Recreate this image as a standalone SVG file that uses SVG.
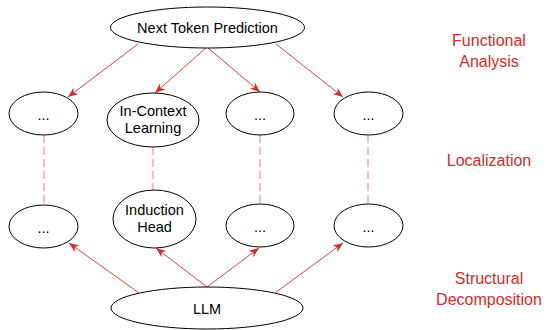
<svg xmlns="http://www.w3.org/2000/svg" width="548" height="330" viewBox="0 0 548 330">
<defs>
<style>
.node ellipse{fill:#fff;stroke:#000;stroke-width:1}
.node text{font-family:"Liberation Sans",Arial,sans-serif;font-size:14.5px;fill:#000;text-anchor:middle}
.arr{stroke:#e04040;stroke-width:1;fill:none;marker-end:url(#ah)}
.dash{stroke:#ec8080;stroke-width:1;stroke-dasharray:8 4;fill:none}
.lab{font-family:"Liberation Sans",Arial,sans-serif;font-size:16px;fill:#d42a2a;text-anchor:middle}
</style>
<marker id="ah" markerUnits="userSpaceOnUse" markerWidth="12" markerHeight="10" refX="10" refY="4" orient="auto">
<path d="M0,0 L10,4 L0,8 L3,4 z" fill="#d42a2a"/>
</marker>
</defs>
<g id="connectors">
<line class="arr" x1="138" y1="44" x2="68" y2="97"/>
<line class="arr" x1="207" y1="47" x2="155" y2="93"/>
<line class="arr" x1="207" y1="47" x2="260" y2="92"/>
<line class="arr" x1="276" y1="44" x2="343" y2="97"/>
<line class="dash" x1="44" y1="135" x2="44" y2="205"/>
<line class="dash" x1="153" y1="147" x2="153" y2="190"/>
<line class="dash" x1="260" y1="135" x2="260" y2="204"/>
<line class="dash" x1="368" y1="135" x2="368" y2="204"/>
<line class="arr" x1="139" y1="293" x2="69" y2="243"/>
<line class="arr" x1="207" y1="287" x2="156" y2="248"/>
<line class="arr" x1="207" y1="287" x2="259" y2="248"/>
<line class="arr" x1="275" y1="293" x2="343" y2="243"/>
</g>
<g id="n-ntp" class="node"><ellipse cx="207.5" cy="27.5" rx="97" ry="20.5"/><text x="207.5" y="33">Next Token Prediction</text></g>
<g id="n-f1" class="node"><ellipse cx="43.5" cy="113.5" rx="34.5" ry="21.5"/><text x="43.5" y="120">...</text></g>
<g id="n-icl" class="node"><ellipse cx="153" cy="120" rx="46" ry="27"/><text x="153" y="116">In-Context</text><text x="153" y="133">Learning</text></g>
<g id="n-f3" class="node"><ellipse cx="260" cy="113.5" rx="34" ry="21.5"/><text x="260" y="120">...</text></g>
<g id="n-f4" class="node"><ellipse cx="368.5" cy="113.5" rx="34.5" ry="21.5"/><text x="368.5" y="120">...</text></g>
<g id="n-s1" class="node"><ellipse cx="43.5" cy="226.5" rx="34.5" ry="21.5"/><text x="43.5" y="233">...</text></g>
<g id="n-ih" class="node"><ellipse cx="154.5" cy="219" rx="41.5" ry="29"/><text x="154.5" y="215">Induction</text><text x="154.5" y="232">Head</text></g>
<g id="n-s3" class="node"><ellipse cx="260" cy="225.5" rx="34" ry="21.5"/><text x="260" y="232">...</text></g>
<g id="n-s4" class="node"><ellipse cx="368.5" cy="225.5" rx="34.5" ry="21.5"/><text x="368.5" y="232">...</text></g>
<g id="n-llm" class="node"><ellipse cx="207" cy="308" rx="96" ry="21"/><text x="207" y="314">LLM</text></g>
<g id="labels">
<text class="lab" x="489" y="46">Functional</text>
<text class="lab" x="489" y="67">Analysis</text>
<text class="lab" x="489" y="166">Localization</text>
<text class="lab" x="489" y="284">Structural</text>
<text class="lab" x="489" y="305">Decomposition</text>
</g>
</svg>
